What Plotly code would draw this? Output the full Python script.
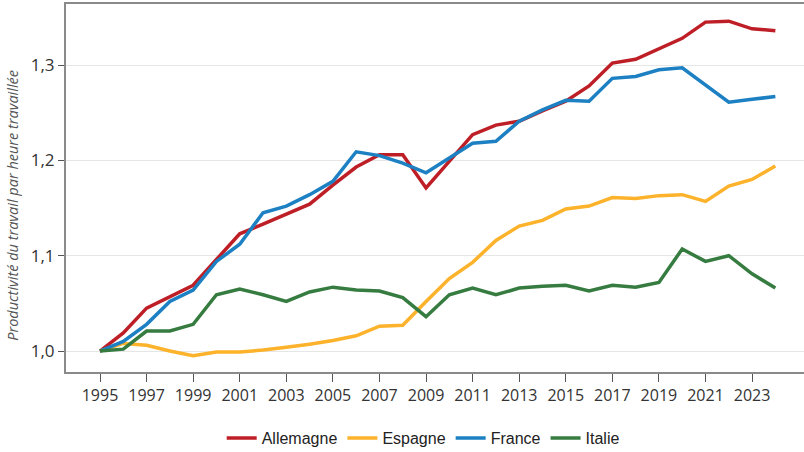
import plotly.graph_objects as go

annees = list(range(1995, 2025))

allemagne = [1.000, 1.019, 1.045, 1.057, 1.069, 1.096, 1.123, 1.133, 1.144, 1.154,
             1.174, 1.193, 1.206, 1.206, 1.171, 1.199, 1.227, 1.237, 1.241, 1.252,
             1.262, 1.278, 1.302, 1.306, 1.317, 1.328, 1.345, 1.346, 1.338, 1.336]
espagne = [1.000, 1.008, 1.006, 1.000, 0.995, 0.999, 0.999, 1.001, 1.004, 1.007,
           1.011, 1.016, 1.026, 1.027, 1.052, 1.076, 1.093, 1.116, 1.131, 1.137,
           1.149, 1.152, 1.161, 1.160, 1.163, 1.164, 1.157, 1.173, 1.180, 1.194]
france = [1.000, 1.010, 1.028, 1.052, 1.064, 1.094, 1.112, 1.145, 1.152, 1.164,
          1.178, 1.209, 1.205, 1.197, 1.187, 1.202, 1.218, 1.220, 1.241, 1.253,
          1.263, 1.262, 1.286, 1.288, 1.295, 1.297, 1.279, 1.261, 1.264, 1.267]
italie = [1.000, 1.002, 1.021, 1.021, 1.028, 1.059, 1.065, 1.059, 1.052, 1.062,
          1.067, 1.064, 1.063, 1.056, 1.036, 1.059, 1.066, 1.059, 1.066, 1.068,
          1.069, 1.063, 1.069, 1.067, 1.072, 1.107, 1.094, 1.100, 1.081, 1.066]

series = [
    ("Allemagne", allemagne, "#BE1E26"),
    ("Espagne", espagne, "#FCB22A"),
    ("France", france, "#1C80C3"),
    ("Italie", italie, "#367C41"),
]

fig = go.Figure()
for nom, vals, couleur in series:
    fig.add_trace(go.Scatter(x=annees, y=vals, name=nom, mode='lines',
                             line=dict(color=couleur, width=3.5)))

fig.update_xaxes(range=[1993.54, 2025.23], tickvals=list(range(1995, 2024, 2)),
                 ticks='outside', ticklen=8, tickcolor='#555', showgrid=False,
                 showline=True, linecolor='#8a8a8a', linewidth=2, mirror=True,
                 tickfont=dict(family='Open Sans', size=16, color='#333'),
                 zeroline=False, automargin=False)
fig.update_yaxes(range=[0.978, 1.364], tickvals=[1.0, 1.1, 1.2, 1.3], tickformat='.1f',
                 ticks='outside', ticklen=6, tickcolor='#555',
                 showgrid=True, gridcolor='#e6e6e6', gridwidth=1,
                 showline=True, linecolor='#8a8a8a', linewidth=2,
                 tickfont=dict(family='Open Sans', size=17, color='#333'),
                 zeroline=False, automargin=False)

# titre de l'axe y (un peu décalé vers le bas comme dans l'original)
fig.add_annotation(text='<i>Productivité du travail par heure travaillée</i>',
                   xref='paper', yref='paper', x=-0.072, y=0.454,
                   xanchor='center', yanchor='middle',
                   textangle=-90, showarrow=False,
                   font=dict(family='Open Sans', size=14.5, color='#555'))

fig.update_layout(
    width=804, height=452,
    margin=dict(l=66, r=0, t=4, b=80),
    plot_bgcolor='white', paper_bgcolor='white',
    separators=', ',
    showlegend=True,
    legend=dict(orientation='h', x=0.484, xanchor='center',
                yref='container', y=0.031, yanchor='middle',
                font=dict(family='Liberation Sans, Arial', size=16, color='#222'),
                itemwidth=30),
)

# pas de marge autour de la page, pas de barre d'outils
fig.write_html("out.html", config={'displayModeBar': False},
               post_script="document.body.style.margin='0';")
